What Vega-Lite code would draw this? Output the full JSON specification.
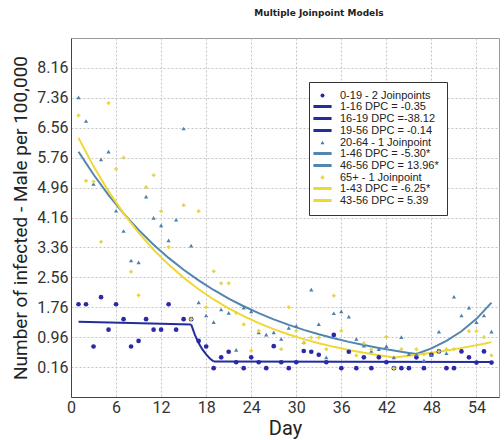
{
  "$schema": "https://vega.github.io/schema/vega-lite/v6.json",
  "width": 428,
  "height": 359,
  "autosize": {"type": "none"},
  "padding": {"left": 71, "top": 38, "right": 5, "bottom": 43},
  "background": "white",
  "title": {"text": "Multiple Joinpoint Models", "fontSize": 9, "font": "DejaVu Sans", "fontWeight": "bold", "color": "#222", "anchor": "middle", "dx": 34, "offset": 20},
  "config": {"view": {"stroke": "#9a9a9a", "strokeWidth": 1}, "font": "Roboto"},
  "datasets": {
    "pts": [
      {"g":"0-19 - 2 Joinpoints","d":1,"v":1.84},{"g":"0-19 - 2 Joinpoints","d":2,"v":1.84},{"g":"0-19 - 2 Joinpoints","d":3,"v":0.71},{"g":"0-19 - 2 Joinpoints","d":4,"v":2.03},{"g":"0-19 - 2 Joinpoints","d":5,"v":1.16},{"g":"0-19 - 2 Joinpoints","d":6,"v":1.84},{"g":"0-19 - 2 Joinpoints","d":7,"v":1.44},{"g":"0-19 - 2 Joinpoints","d":8,"v":0.71},{"g":"0-19 - 2 Joinpoints","d":9,"v":0.86},{"g":"0-19 - 2 Joinpoints","d":10,"v":1.44},{"g":"0-19 - 2 Joinpoints","d":11,"v":1.16},{"g":"0-19 - 2 Joinpoints","d":12,"v":1.16},{"g":"0-19 - 2 Joinpoints","d":13,"v":1.84},{"g":"0-19 - 2 Joinpoints","d":14,"v":1.16},{"g":"0-19 - 2 Joinpoints","d":15,"v":1.44},{"g":"0-19 - 2 Joinpoints","d":16,"v":1.44},{"g":"0-19 - 2 Joinpoints","d":17,"v":0.86},{"g":"0-19 - 2 Joinpoints","d":18,"v":0.71},{"g":"0-19 - 2 Joinpoints","d":19,"v":0.13},{"g":"0-19 - 2 Joinpoints","d":20,"v":0.42},{"g":"0-19 - 2 Joinpoints","d":21,"v":0.57},{"g":"0-19 - 2 Joinpoints","d":22,"v":0.29},{"g":"0-19 - 2 Joinpoints","d":23,"v":0.13},{"g":"0-19 - 2 Joinpoints","d":24,"v":0.42},{"g":"0-19 - 2 Joinpoints","d":25,"v":0.29},{"g":"0-19 - 2 Joinpoints","d":26,"v":0.13},{"g":"0-19 - 2 Joinpoints","d":27,"v":0.72},{"g":"0-19 - 2 Joinpoints","d":28,"v":0.29},{"g":"0-19 - 2 Joinpoints","d":29,"v":0.13},{"g":"0-19 - 2 Joinpoints","d":30,"v":0.29},{"g":"0-19 - 2 Joinpoints","d":31,"v":0.59},{"g":"0-19 - 2 Joinpoints","d":32,"v":0.57},{"g":"0-19 - 2 Joinpoints","d":33,"v":0.49},{"g":"0-19 - 2 Joinpoints","d":34,"v":0.29},{"g":"0-19 - 2 Joinpoints","d":35,"v":1.02},{"g":"0-19 - 2 Joinpoints","d":36,"v":0.13},{"g":"0-19 - 2 Joinpoints","d":37,"v":0.57},{"g":"0-19 - 2 Joinpoints","d":38,"v":0.13},{"g":"0-19 - 2 Joinpoints","d":39,"v":0.42},{"g":"0-19 - 2 Joinpoints","d":40,"v":0.13},{"g":"0-19 - 2 Joinpoints","d":41,"v":0.42},{"g":"0-19 - 2 Joinpoints","d":42,"v":0.29},{"g":"0-19 - 2 Joinpoints","d":43,"v":0.13},{"g":"0-19 - 2 Joinpoints","d":44,"v":0.13},{"g":"0-19 - 2 Joinpoints","d":45,"v":0.13},{"g":"0-19 - 2 Joinpoints","d":46,"v":0.42},{"g":"0-19 - 2 Joinpoints","d":47,"v":0.13},{"g":"0-19 - 2 Joinpoints","d":48,"v":0.49},{"g":"0-19 - 2 Joinpoints","d":49,"v":0.58},{"g":"0-19 - 2 Joinpoints","d":50,"v":0.13},{"g":"0-19 - 2 Joinpoints","d":51,"v":0.13},{"g":"0-19 - 2 Joinpoints","d":52,"v":0.58},{"g":"0-19 - 2 Joinpoints","d":53,"v":0.42},{"g":"0-19 - 2 Joinpoints","d":54,"v":0.28},{"g":"0-19 - 2 Joinpoints","d":55,"v":0.58},{"g":"0-19 - 2 Joinpoints","d":56,"v":0.28},
      {"g":"20-64 - 1 Joinpoint","d":1,"v":7.37},{"g":"20-64 - 1 Joinpoint","d":2,"v":6.74},{"g":"20-64 - 1 Joinpoint","d":3,"v":5.06},{"g":"20-64 - 1 Joinpoint","d":4,"v":5.71},{"g":"20-64 - 1 Joinpoint","d":5,"v":5.92},{"g":"20-64 - 1 Joinpoint","d":6,"v":4.34},{"g":"20-64 - 1 Joinpoint","d":7,"v":3.8},{"g":"20-64 - 1 Joinpoint","d":8,"v":3.01},{"g":"20-64 - 1 Joinpoint","d":9,"v":2.96},{"g":"20-64 - 1 Joinpoint","d":10,"v":4.72},{"g":"20-64 - 1 Joinpoint","d":11,"v":4.15},{"g":"20-64 - 1 Joinpoint","d":12,"v":3.95},{"g":"20-64 - 1 Joinpoint","d":13,"v":3.55},{"g":"20-64 - 1 Joinpoint","d":14,"v":4.1},{"g":"20-64 - 1 Joinpoint","d":15,"v":6.54},{"g":"20-64 - 1 Joinpoint","d":16,"v":3.41},{"g":"20-64 - 1 Joinpoint","d":17,"v":1.89},{"g":"20-64 - 1 Joinpoint","d":18,"v":1.54},{"g":"20-64 - 1 Joinpoint","d":19,"v":1.36},{"g":"20-64 - 1 Joinpoint","d":20,"v":1.7},{"g":"20-64 - 1 Joinpoint","d":21,"v":1.61},{"g":"20-64 - 1 Joinpoint","d":22,"v":0.62},{"g":"20-64 - 1 Joinpoint","d":23,"v":1.75},{"g":"20-64 - 1 Joinpoint","d":24,"v":1.65},{"g":"20-64 - 1 Joinpoint","d":25,"v":1.09},{"g":"20-64 - 1 Joinpoint","d":26,"v":1.03},{"g":"20-64 - 1 Joinpoint","d":27,"v":1.09},{"g":"20-64 - 1 Joinpoint","d":28,"v":0.91},{"g":"20-64 - 1 Joinpoint","d":29,"v":1.21},{"g":"20-64 - 1 Joinpoint","d":30,"v":1.26},{"g":"20-64 - 1 Joinpoint","d":31,"v":0.83},{"g":"20-64 - 1 Joinpoint","d":32,"v":2.23},{"g":"20-64 - 1 Joinpoint","d":33,"v":1.31},{"g":"20-64 - 1 Joinpoint","d":34,"v":0.42},{"g":"20-64 - 1 Joinpoint","d":35,"v":1.6},{"g":"20-64 - 1 Joinpoint","d":36,"v":1.65},{"g":"20-64 - 1 Joinpoint","d":37,"v":1.51},{"g":"20-64 - 1 Joinpoint","d":38,"v":0.91},{"g":"20-64 - 1 Joinpoint","d":39,"v":0.73},{"g":"20-64 - 1 Joinpoint","d":40,"v":0.59},{"g":"20-64 - 1 Joinpoint","d":41,"v":0.64},{"g":"20-64 - 1 Joinpoint","d":42,"v":0.72},{"g":"20-64 - 1 Joinpoint","d":43,"v":0.42},{"g":"20-64 - 1 Joinpoint","d":44,"v":0.96},{"g":"20-64 - 1 Joinpoint","d":45,"v":0.51},{"g":"20-64 - 1 Joinpoint","d":46,"v":0.5},{"g":"20-64 - 1 Joinpoint","d":47,"v":0.34},{"g":"20-64 - 1 Joinpoint","d":48,"v":0.49},{"g":"20-64 - 1 Joinpoint","d":49,"v":1.11},{"g":"20-64 - 1 Joinpoint","d":50,"v":0.53},{"g":"20-64 - 1 Joinpoint","d":51,"v":2.04},{"g":"20-64 - 1 Joinpoint","d":52,"v":1.54},{"g":"20-64 - 1 Joinpoint","d":53,"v":1.75},{"g":"20-64 - 1 Joinpoint","d":54,"v":1.36},{"g":"20-64 - 1 Joinpoint","d":55,"v":1.54},{"g":"20-64 - 1 Joinpoint","d":56,"v":1.11},
      {"g":"65+ - 1 Joinpoint","d":1,"v":6.89},{"g":"65+ - 1 Joinpoint","d":2,"v":5.14},{"g":"65+ - 1 Joinpoint","d":3,"v":5.12},{"g":"65+ - 1 Joinpoint","d":4,"v":3.51},{"g":"65+ - 1 Joinpoint","d":5,"v":7.22},{"g":"65+ - 1 Joinpoint","d":6,"v":5.46},{"g":"65+ - 1 Joinpoint","d":7,"v":5.76},{"g":"65+ - 1 Joinpoint","d":8,"v":2.71},{"g":"65+ - 1 Joinpoint","d":9,"v":2.08},{"g":"65+ - 1 Joinpoint","d":10,"v":4.97},{"g":"65+ - 1 Joinpoint","d":11,"v":5.29},{"g":"65+ - 1 Joinpoint","d":12,"v":4.33},{"g":"65+ - 1 Joinpoint","d":13,"v":3.37},{"g":"65+ - 1 Joinpoint","d":15,"v":4.49},{"g":"65+ - 1 Joinpoint","d":16,"v":1.44},{"g":"65+ - 1 Joinpoint","d":17,"v":4.33},{"g":"65+ - 1 Joinpoint","d":18,"v":1.76},{"g":"65+ - 1 Joinpoint","d":19,"v":2.72},{"g":"65+ - 1 Joinpoint","d":20,"v":2.4},{"g":"65+ - 1 Joinpoint","d":21,"v":2.4},{"g":"65+ - 1 Joinpoint","d":22,"v":1.61},{"g":"65+ - 1 Joinpoint","d":23,"v":1.3},{"g":"65+ - 1 Joinpoint","d":24,"v":0.6},{"g":"65+ - 1 Joinpoint","d":25,"v":1.13},{"g":"65+ - 1 Joinpoint","d":28,"v":0.64},{"g":"65+ - 1 Joinpoint","d":29,"v":1.76},{"g":"65+ - 1 Joinpoint","d":30,"v":1.13},{"g":"65+ - 1 Joinpoint","d":31,"v":0.81},{"g":"65+ - 1 Joinpoint","d":32,"v":0.95},{"g":"65+ - 1 Joinpoint","d":33,"v":0.95},{"g":"65+ - 1 Joinpoint","d":34,"v":0.64},{"g":"65+ - 1 Joinpoint","d":35,"v":2.07},{"g":"65+ - 1 Joinpoint","d":36,"v":1.13},{"g":"65+ - 1 Joinpoint","d":38,"v":0.47},{"g":"65+ - 1 Joinpoint","d":39,"v":0.8},{"g":"65+ - 1 Joinpoint","d":40,"v":0.64},{"g":"65+ - 1 Joinpoint","d":42,"v":0.97},{"g":"65+ - 1 Joinpoint","d":43,"v":0.13},{"g":"65+ - 1 Joinpoint","d":44,"v":0.64},{"g":"65+ - 1 Joinpoint","d":46,"v":0.64},{"g":"65+ - 1 Joinpoint","d":47,"v":0.5},{"g":"65+ - 1 Joinpoint","d":49,"v":0.58},{"g":"65+ - 1 Joinpoint","d":50,"v":0.64},{"g":"65+ - 1 Joinpoint","d":51,"v":0.64},{"g":"65+ - 1 Joinpoint","d":53,"v":1.12},{"g":"65+ - 1 Joinpoint","d":54,"v":1.12},{"g":"65+ - 1 Joinpoint","d":55,"v":0.96},{"g":"65+ - 1 Joinpoint","d":56,"v":0.47}
    ],
    "fits": [
      {"g":"1-16 DPC = -0.35","d":1,"v":1.37},{"g":"1-16 DPC = -0.35","d":8,"v":1.337},{"g":"1-16 DPC = -0.35","d":16,"v":1.3},
      {"g":"16-19 DPC =-38.12","d":16,"v":1.3},{"g":"16-19 DPC =-38.12","d":16.5,"v":1.023},{"g":"16-19 DPC =-38.12","d":17,"v":0.804},{"g":"16-19 DPC =-38.12","d":17.5,"v":0.633},{"g":"16-19 DPC =-38.12","d":18,"v":0.498},{"g":"16-19 DPC =-38.12","d":18.5,"v":0.392},{"g":"16-19 DPC =-38.12","d":19,"v":0.308},
      {"g":"19-56 DPC = -0.14","d":19,"v":0.308},{"g":"19-56 DPC = -0.14","d":56,"v":0.293},
      {"g":"1-46 DPC = -5.30*","d":1,"v":5.92},{"g":"1-46 DPC = -5.30*","d":3,"v":5.309},{"g":"1-46 DPC = -5.30*","d":5,"v":4.761},{"g":"1-46 DPC = -5.30*","d":7,"v":4.27},{"g":"1-46 DPC = -5.30*","d":9,"v":3.83},{"g":"1-46 DPC = -5.30*","d":11,"v":3.434},{"g":"1-46 DPC = -5.30*","d":13,"v":3.08},{"g":"1-46 DPC = -5.30*","d":15,"v":2.762},{"g":"1-46 DPC = -5.30*","d":17,"v":2.477},{"g":"1-46 DPC = -5.30*","d":19,"v":2.222},{"g":"1-46 DPC = -5.30*","d":21,"v":1.992},{"g":"1-46 DPC = -5.30*","d":23,"v":1.787},{"g":"1-46 DPC = -5.30*","d":25,"v":1.602},{"g":"1-46 DPC = -5.30*","d":27,"v":1.437},{"g":"1-46 DPC = -5.30*","d":29,"v":1.289},{"g":"1-46 DPC = -5.30*","d":31,"v":1.156},{"g":"1-46 DPC = -5.30*","d":33,"v":1.036},{"g":"1-46 DPC = -5.30*","d":35,"v":0.93},{"g":"1-46 DPC = -5.30*","d":37,"v":0.834},{"g":"1-46 DPC = -5.30*","d":39,"v":0.748},{"g":"1-46 DPC = -5.30*","d":41,"v":0.671},{"g":"1-46 DPC = -5.30*","d":43,"v":0.601},{"g":"1-46 DPC = -5.30*","d":45,"v":0.539},{"g":"1-46 DPC = -5.30*","d":46,"v":0.51},
      {"g":"46-56 DPC = 13.96*","d":46,"v":0.51},{"g":"46-56 DPC = 13.96*","d":48,"v":0.662},{"g":"46-56 DPC = 13.96*","d":50,"v":0.86},{"g":"46-56 DPC = 13.96*","d":52,"v":1.117},{"g":"46-56 DPC = 13.96*","d":54,"v":1.451},{"g":"46-56 DPC = 13.96*","d":56,"v":1.884},
      {"g":"1-43 DPC = -6.25*","d":1,"v":6.29},{"g":"1-43 DPC = -6.25*","d":3,"v":5.528},{"g":"1-43 DPC = -6.25*","d":5,"v":4.859},{"g":"1-43 DPC = -6.25*","d":7,"v":4.271},{"g":"1-43 DPC = -6.25*","d":9,"v":3.753},{"g":"1-43 DPC = -6.25*","d":11,"v":3.299},{"g":"1-43 DPC = -6.25*","d":13,"v":2.9},{"g":"1-43 DPC = -6.25*","d":15,"v":2.548},{"g":"1-43 DPC = -6.25*","d":17,"v":2.24},{"g":"1-43 DPC = -6.25*","d":19,"v":1.968},{"g":"1-43 DPC = -6.25*","d":21,"v":1.73},{"g":"1-43 DPC = -6.25*","d":23,"v":1.521},{"g":"1-43 DPC = -6.25*","d":25,"v":1.337},{"g":"1-43 DPC = -6.25*","d":27,"v":1.175},{"g":"1-43 DPC = -6.25*","d":29,"v":1.032},{"g":"1-43 DPC = -6.25*","d":31,"v":0.908},{"g":"1-43 DPC = -6.25*","d":33,"v":0.798},{"g":"1-43 DPC = -6.25*","d":35,"v":0.701},{"g":"1-43 DPC = -6.25*","d":37,"v":0.616},{"g":"1-43 DPC = -6.25*","d":39,"v":0.541},{"g":"1-43 DPC = -6.25*","d":41,"v":0.476},{"g":"1-43 DPC = -6.25*","d":43,"v":0.418},
      {"g":"43-56 DPC = 5.39","d":43,"v":0.418},{"g":"43-56 DPC = 5.39","d":45,"v":0.464},{"g":"43-56 DPC = 5.39","d":47,"v":0.516},{"g":"43-56 DPC = 5.39","d":49,"v":0.573},{"g":"43-56 DPC = 5.39","d":51,"v":0.636},{"g":"43-56 DPC = 5.39","d":53,"v":0.707},{"g":"43-56 DPC = 5.39","d":55,"v":0.785},{"g":"43-56 DPC = 5.39","d":56,"v":0.827}
    ]
  },
  "encoding": {
    "x": {"field": "d", "type": "quantitative", "scale": {"domain": [0, 57], "nice": false, "zero": false},
      "axis": {"values": [0, 6, 12, 18, 24, 30, 36, 42, 48, 54], "title": "Day", "titleFontSize": 20, "titleFontWeight": "normal", "titleColor": "#222", "titlePadding": 3, "labelFontSize": 16, "labelColor": "#333", "labelPadding": 2, "tickSize": 0, "grid": true, "gridDash": [2, 2], "gridColor": "#c4c4c4", "domainColor": "#444", "labelFlush": false}},
    "y": {"field": "v", "type": "quantitative", "scale": {"domain": [-0.64, 8.96], "nice": false, "zero": false},
      "axis": {"values": [0.16, 0.96, 1.76, 2.56, 3.36, 4.16, 4.96, 5.76, 6.56, 7.36, 8.16], "format": ".2f", "title": "Number of infected - Male per 100,000", "titleFontSize": 19, "titleFontWeight": "normal", "titleColor": "#222", "titlePadding": 6, "labelFontSize": 16, "labelColor": "#333", "labelPadding": 3, "tickSize": 0, "grid": true, "gridDash": [2, 2], "gridColor": "#c4c4c4", "domainColor": "#444", "labelFlush": false}}
  },
  "layer": [
    {
      "data": {"name": "fits"},
      "mark": {"type": "line", "interpolate": "linear"},
      "encoding": {
        "color": {"field": "g", "type": "nominal",
          "scale": {"domain": ["0-19 - 2 Joinpoints", "1-16 DPC = -0.35", "16-19 DPC =-38.12", "19-56 DPC = -0.14", "20-64 - 1 Joinpoint", "1-46 DPC = -5.30*", "46-56 DPC = 13.96*", "65+ - 1 Joinpoint", "1-43 DPC = -6.25*", "43-56 DPC = 5.39"],
            "range": ["#2a2aa8", "#232c9c", "#232c9c", "#232c9c", "#4e7fa6", "#5285b0", "#5285b0", "#e6d43c", "#f0d834", "#f0d834"]},
          "legend": {"orient": "none", "legendX": 238, "legendY": 44, "title": null, "fillColor": "white", "strokeColor": "#333", "padding": 8, "labelFont": "Liberation Sans", "labelFontSize": 11, "labelColor": "#222", "rowPadding": -1.5, "labelOffset": 12, "symbolSize": 330, "symbolStrokeWidth": 3, "symbolType": "stroke",
            "encode": {"symbols": {"update": {
              "shape": {"signal": "datum.value === '0-19 - 2 Joinpoints' ? 'circle' : datum.value === '20-64 - 1 Joinpoint' ? 'triangle-up' : datum.value === '65+ - 1 Joinpoint' ? 'cross' : 'stroke'"},
              "size": {"signal": "indexof(['0-19 - 2 Joinpoints','20-64 - 1 Joinpoint','65+ - 1 Joinpoint'], datum.value) >= 0 ? 16 : 330"},
              "fill": {"signal": "indexof(['0-19 - 2 Joinpoints','20-64 - 1 Joinpoint','65+ - 1 Joinpoint'], datum.value) >= 0 ? scale('color', datum.value) : 'transparent'"},
              "stroke": {"signal": "scale('color', datum.value)"},
              "strokeWidth": {"signal": "indexof(['0-19 - 2 Joinpoints','20-64 - 1 Joinpoint','65+ - 1 Joinpoint'], datum.value) >= 0 ? 0 : 3"},
              "opacity": {"value": 1}
            }}}}},
        "strokeWidth": {"field": "g", "type": "nominal", "legend": null,
          "scale": {"domain": ["1-16 DPC = -0.35", "16-19 DPC =-38.12", "19-56 DPC = -0.14", "1-46 DPC = -5.30*", "46-56 DPC = 13.96*", "1-43 DPC = -6.25*", "43-56 DPC = 5.39"], "range": [2, 2, 2, 2, 2, 2.5, 2.5]}}
      }
    },
    {
      "data": {"name": "pts"},
      "mark": {"type": "point", "filled": true, "opacity": 1},
      "encoding": {
        "color": {"field": "g", "type": "nominal",
          "scale": {"domain": ["0-19 - 2 Joinpoints", "1-16 DPC = -0.35", "16-19 DPC =-38.12", "19-56 DPC = -0.14", "20-64 - 1 Joinpoint", "1-46 DPC = -5.30*", "46-56 DPC = 13.96*", "65+ - 1 Joinpoint", "1-43 DPC = -6.25*", "43-56 DPC = 5.39"],
            "range": ["#2a2aa8", "#232c9c", "#232c9c", "#232c9c", "#4e7fa6", "#5285b0", "#5285b0", "#e6d43c", "#f0d834", "#f0d834"]}},
        "shape": {"field": "g", "type": "nominal", "legend": null,
          "scale": {"domain": ["0-19 - 2 Joinpoints", "20-64 - 1 Joinpoint", "65+ - 1 Joinpoint"], "range": ["circle", "triangle-up", "cross"]}},
        "size": {"field": "g", "type": "nominal", "legend": null,
          "scale": {"domain": ["0-19 - 2 Joinpoints", "20-64 - 1 Joinpoint", "65+ - 1 Joinpoint"], "range": [22, 14, 14]}}
      }
    }
  ]
}
